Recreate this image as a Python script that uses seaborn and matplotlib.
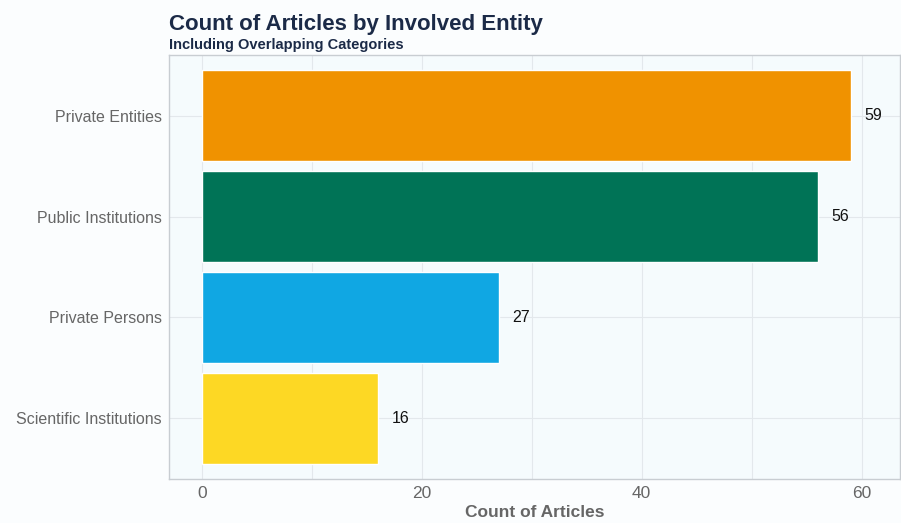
import matplotlib
matplotlib.use("Agg")
import matplotlib.pyplot as plt
import seaborn as sns
import pandas as pd

categories = ["Private Entities", "Public Institutions", "Private Persons", "Scientific Institutions"]
counts = [59, 56, 27, 16]
colors = ["#F09200", "#007356", "#10A7E3", "#FDD824"]
x_ticks = [0, 20, 40, 60]

df = pd.DataFrame({"Entity": categories, "Count": counts})

sns.set_theme(style="whitegrid")
plt.rcParams["font.family"] = ["Liberation Sans", "DejaVu Sans"]

fig = plt.figure(figsize=(9.01, 5.23), dpi=100)
fig.patch.set_facecolor("#FBFDFE")
ax = fig.add_axes([169/901, 1-479/523, (900-169)/901, (479-55)/523])
ax.set_facecolor("#F5FBFD")

sns.barplot(data=df, x="Count", y="Entity", hue="Entity", palette=colors,
            order=categories, hue_order=categories, width=0.9, legend=False,
            saturation=1, ax=ax)

for i, v in enumerate(counts):
    ax.annotate(str(v), xy=(v, i), xytext=(10, 0), textcoords="offset points",
                ha="left", va="center", fontsize=11.5, color="#111111")

ax.set_xlim(-3, 63.5)
ax.set_ylim(3.6, -0.6)
ax.set_xticks(x_ticks)
ax.set_xticks([10, 30, 50], minor=True)
ax.grid(True, which="major", axis="both", color="#E3E8EC", linewidth=0.8)
ax.grid(True, which="minor", axis="x", color="#E3E8EC", linewidth=0.8)
ax.tick_params(axis="both", which="both", length=0, labelcolor="#666666")
ax.tick_params(axis="y", labelsize=11.5, pad=5)
ax.tick_params(axis="x", labelsize=12.5, pad=5)
ax.set_ylabel("")
ax.set_xlabel("Count of Articles", fontsize=12.5, fontweight="bold", color="#666666", labelpad=3)
for s in ax.spines.values():
    s.set_color("#C8CDD2")
    s.set_linewidth(1.0)

fig.text(169/901, 1-30/523, "Count of Articles by Involved Entity", fontsize=16,
         fontweight="bold", color="#1B2A47", ha="left", va="baseline")
fig.text(169/901, 1-49/523, "Including Overlapping Categories", fontsize=10.5,
         fontweight="bold", color="#1B2A47", ha="left", va="baseline")

fig.savefig("out.png", dpi=100, facecolor=fig.get_facecolor())
